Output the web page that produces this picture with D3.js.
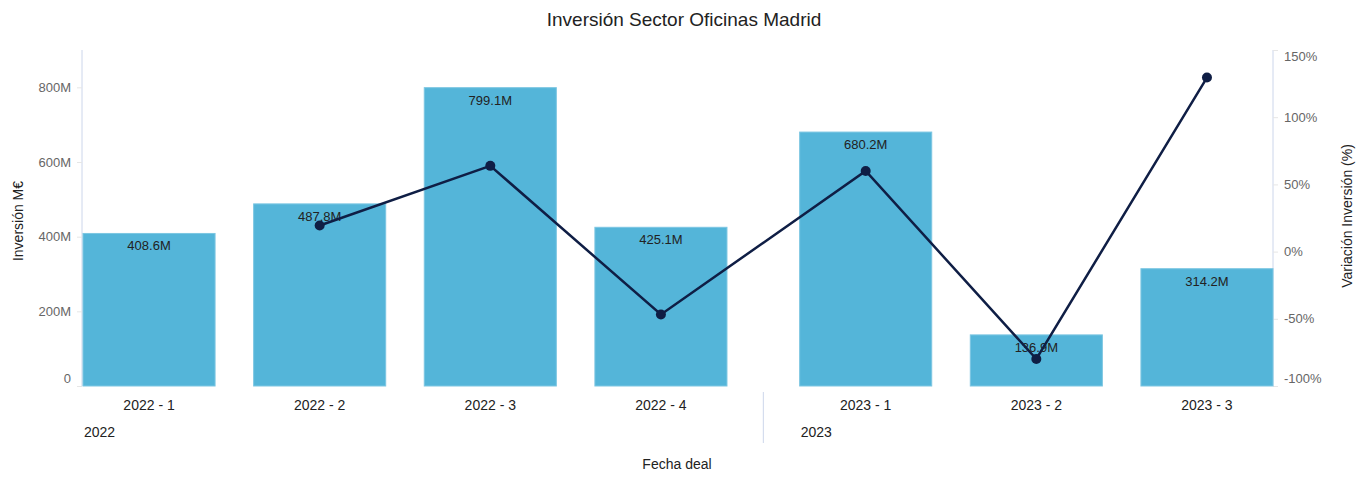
<!DOCTYPE html>
<html>
<head>
<meta charset="utf-8">
<script src="https://cdn.jsdelivr.net/npm/d3@7"></script>
<style>
  body { margin: 0; background: #fff; }
  text { font-family: "Liberation Sans", Arial, sans-serif; }
</style>
</head>
<body>
<div id="chart-area"></div>
<script>
// data
var years = ["2022", "2022", "2022", "2022", "2023", "2023", "2023"];
var quarters = ["2022 - 1", "2022 - 2", "2022 - 3", "2022 - 4", "2023 - 1", "2023 - 2", "2023 - 3"];
var inversion = [408.6, 487.8, 799.1, 425.1, 680.2, 136.9, 314.2];
var variacion = [null, 19.4, 63.8, -46.8, 60.0, -79.9, 129.5];
var leftTicks = [0, 200, 400, 600, 800];
var rightTicks = [-100, -50, 0, 50, 100, 150];

var W = 1369, H = 486;
var plot = {left: 83, right: 1273, top: 50, bottom: 386};

var svg = d3.select("#chart-area")
  .append("svg")
    .attr("width", W)
    .attr("height", H);

// slot units: each bar takes barW units, groups separated by an extra gap
var barW = 0.774, groupGap = 0.2;
var groupNames = Array.from(new Set(years));
function slot(i) { return i + groupNames.indexOf(years[i]) * groupGap; }

var x = d3.scaleLinear()
  .domain([0, slot(quarters.length - 1) + barW])
  .range([plot.left, plot.right]);

var y = d3.scaleLinear().domain([0, 900]).range([plot.bottom, plot.top]);
var y2 = d3.scaleLinear().domain([-100, 150]).range([plot.bottom, plot.top]);

// title
svg.append("text")
  .attr("x", 684).attr("y", 26)
  .attr("text-anchor", "middle")
  .attr("font-size", "19px")
  .attr("fill", "#222")
  .text("Inversión Sector Oficinas Madrid");

// axes
var axisColor = "#ccd6eb";
var leftAxis = svg.append("g")
  .attr("transform", "translate(" + (plot.left - 1) + ",0)")
  .call(d3.axisLeft(y).tickValues(leftTicks).tickSize(5).tickPadding(6)
    .tickFormat(function(d) { return d === 0 ? "0" : d + "M"; }));
leftAxis.select(".domain").attr("stroke", axisColor).attr("d", "M0," + plot.top + "V" + plot.bottom);
leftAxis.selectAll(".tick line").attr("stroke", "#e6e6e6");
leftAxis.selectAll(".tick text").attr("fill", "#666").attr("font-size", "13px")
  .attr("font-family", "Liberation Sans, Arial, sans-serif")
  .attr("y", function(d) { return d === 0 ? -8 : 0; });

var rightAxis = svg.append("g")
  .attr("transform", "translate(" + plot.right + ",0)")
  .call(d3.axisRight(y2).tickValues(rightTicks).tickSize(5).tickPadding(6)
    .tickFormat(function(d) { return d + "%"; }));
rightAxis.select(".domain").attr("stroke", axisColor).attr("d", "M0," + plot.top + "V" + plot.bottom);
rightAxis.selectAll(".tick line").attr("stroke", "#e6e6e6");
rightAxis.selectAll(".tick text").attr("fill", "#666").attr("font-size", "13px")
  .attr("font-family", "Liberation Sans, Arial, sans-serif")
  .attr("y", function(d) { return d === -100 ? -8 : (d === 150 ? 6 : 0); });

// axis titles
svg.append("text")
  .attr("transform", "translate(23," + 221 + ") rotate(-90)")
  .attr("text-anchor", "middle")
  .attr("font-size", "14px").attr("fill", "#222")
  .text("Inversión M€");

svg.append("text")
  .attr("transform", "translate(1352," + 216 + ") rotate(-90)")
  .attr("text-anchor", "middle")
  .attr("font-size", "14px").attr("fill", "#222")
  .text("Variación Inversión (%)");

// bars
svg.selectAll("rect.bar")
  .data(inversion)
  .enter().append("rect")
    .attr("class", "bar")
    .attr("x", function(d, i) { return x(slot(i)); })
    .attr("width", function(d, i) { return x(slot(i) + barW) - x(slot(i)); })
    .attr("y", function(d) { return y(d); })
    .attr("height", function(d) { return y(0) - y(d); })
    .attr("fill", "#54b5d9")
    .attr("stroke", "#7cc6e2")
    .attr("stroke-width", 1);

// bar labels
svg.selectAll("text.barlabel")
  .data(inversion)
  .enter().append("text")
    .attr("class", "barlabel")
    .attr("x", function(d, i) { return x(slot(i) + barW / 2); })
    .attr("y", function(d) { return y(d) + 17; })
    .attr("text-anchor", "middle")
    .attr("font-size", "13px")
    .attr("fill", "#222")
    .text(function(d) { return d.toFixed(1) + "M"; });

// line
var pts = variacion.map(function(v, i) { return {i: i, v: v}; })
  .filter(function(p) { return p.v !== null; });

svg.append("path")
  .datum(pts)
  .attr("fill", "none")
  .attr("stroke", "#0f1e45")
  .attr("stroke-width", 2.5)
  .attr("d", d3.line()
    .x(function(p) { return x(slot(p.i) + barW / 2); })
    .y(function(p) { return y2(p.v); }));

svg.selectAll("circle.pt")
  .data(pts)
  .enter().append("circle")
    .attr("class", "pt")
    .attr("cx", function(p) { return x(slot(p.i) + barW / 2); })
    .attr("cy", function(p) { return y2(p.v); })
    .attr("r", 5)
    .attr("fill", "#0f1e45");

// category labels
svg.selectAll("text.cat")
  .data(quarters)
  .enter().append("text")
    .attr("class", "cat")
    .attr("x", function(d, i) { return x(slot(i) + barW / 2); })
    .attr("y", 410)
    .attr("text-anchor", "middle")
    .attr("font-size", "14px")
    .attr("fill", "#222")
    .text(function(d) { return d; });

// group labels and separators
groupNames.forEach(function(g, gi) {
  var first = years.indexOf(g);
  svg.append("text")
    .attr("x", x(slot(first)) + 1)
    .attr("y", 437)
    .attr("font-size", "14px")
    .attr("fill", "#222")
    .text(g);
  if (gi > 0) {
    var sep = (x(slot(first - 1) + barW) + x(slot(first))) / 2;
    svg.append("line")
      .attr("x1", sep).attr("x2", sep)
      .attr("y1", 392).attr("y2", 443)
      .attr("stroke", axisColor);
  }
});

svg.append("text")
  .attr("x", 677).attr("y", 469)
  .attr("text-anchor", "middle")
  .attr("font-size", "14px")
  .attr("fill", "#222")
  .text("Fecha deal");
</script>
</body>
</html>
